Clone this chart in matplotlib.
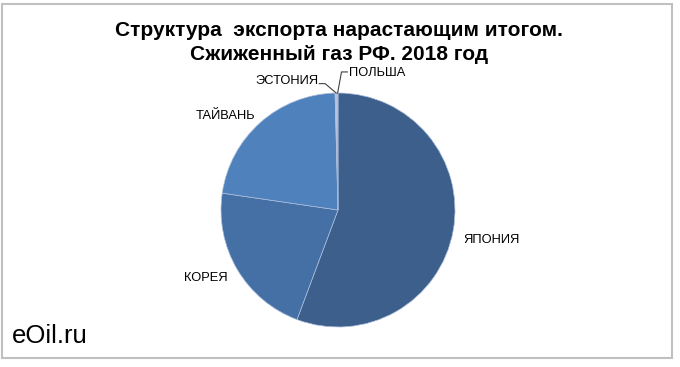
import matplotlib
matplotlib.use("Agg")
import matplotlib.pyplot as plt
from matplotlib.patches import Rectangle
import numpy as np

plt.rcParams['font.family'] = ['Liberation Sans', 'DejaVu Sans']

countries = ['ЯПОНИЯ', 'КОРЕЯ', 'ТАЙВАНЬ', 'ЭСТОНИЯ', 'ПОЛЬША']
shares = [55.7, 21.6, 22.3, 0.3, 0.1]
colors = ['#3c5f8c', '#4570a6', '#4f81bd', '#b4c6e2', '#3c5f8c']

W, H = 680, 367
fig = plt.figure(figsize=(W / 100, H / 100), dpi=100)

# light grey frame around the chart area
fig.patches.append(Rectangle((2 / W, (H - 358) / H), 670 / W, 354 / H,
                             transform=fig.transFigure, fill=False,
                             edgecolor='#c0c0c0', linewidth=1.5))

cx, cy, r = 338, 210, 117
ax = fig.add_axes([(cx - r) / W, (H - cy - r) / H, 2 * r / W, 2 * r / H])
ax.set_axis_off()

big_labels = countries[:3] + ['', '']
wedges, texts = ax.pie(shares, colors=colors, startangle=90, counterclock=False,
                       labels=big_labels, labeldistance=1.1, radius=1,
                       wedgeprops=dict(edgecolor='#aebfdc', linewidth=0.5),
                       textprops=dict(fontsize=9.3))
ax.set_aspect('auto')
ax.set_xlim(-1, 1)
ax.set_ylim(-1, 1)

# nudge the big labels to where the original chart puts them
texts[0].set_position((1.07, -0.26))
texts[1].set_position((-0.94, -0.58))
texts[2].set_position((-0.71, 0.80))

# leader lines for the tiny slices
for i, (tx, ty, ha) in zip([3, 4], [(-0.17, 1.1, 'right'), (0.09, 1.17, 'left')]):
    w = wedges[i]
    ang = np.deg2rad((w.theta1 + w.theta2) / 2)
    px, py = np.cos(ang), np.sin(ang)
    if ha == 'right':
        ax.plot([tx + 0.01, tx + 0.06, px], [ty - 0.02, ty - 0.02, py],
                color='#404040', linewidth=0.8, clip_on=False)
    else:
        ax.plot([tx - 0.01, tx - 0.06, px], [ty + 0.01, ty + 0.01, py],
                color='#404040', linewidth=0.8, clip_on=False)
    ax.text(tx, ty, countries[i], fontsize=9.3, ha=ha, va='center')

fig.text(339 / W, 1 - 31 / H, 'Структура  экспорта нарастающим итогом.',
         ha='center', va='center', fontsize=15, fontweight='bold')
fig.text(339 / W, 1 - 54 / H, 'Сжиженный газ РФ. 2018 год',
         ha='center', va='center', fontsize=15, fontweight='bold')
fig.text(12 / W, 1 - 336 / H, 'eOil.ru', ha='left', va='center', fontsize=18.5)

fig.savefig('out.png', dpi=100)
